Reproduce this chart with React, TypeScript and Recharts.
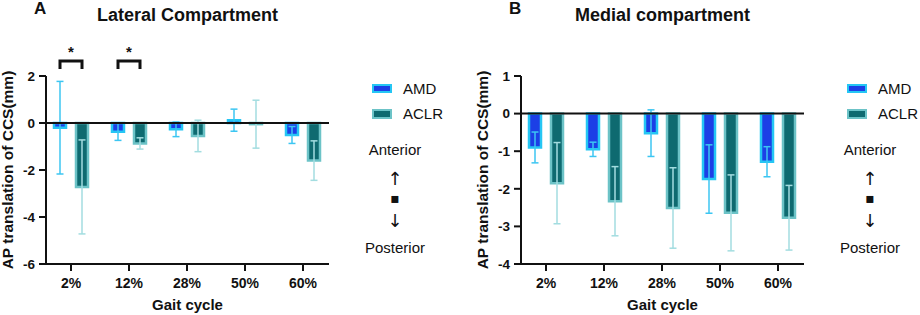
import React from 'react';
import { BarChart, Bar, XAxis, YAxis, ErrorBar, ReferenceLine, LabelList } from 'recharts';

const categories = ['2%', '12%', '28%', '50%', '60%'];

// Lateral compartment (panel A)
const latAmdMean = [-0.2, -0.37, -0.27, 0.12, -0.51];
const latAmdSd = [1.97, 0.37, 0.31, 0.47, 0.36];
const latAclrMean = [-2.72, -0.87, -0.55, -0.05, -1.6];
const latAclrSd = [2.0, 0.24, 0.67, 1.02, 0.84];
const latSig = ['*', '*', '', '', ''];
const latTicks = [2, 0, -2, -4, -6];

// Medial compartment (panel B)
const medAmdMean = [-0.9, -0.95, -0.52, -1.74, -1.28];
const medAmdSd = [0.41, 0.19, 0.62, 0.91, 0.4];
const medAclrMean = [-1.85, -2.33, -2.51, -2.64, -2.77];
const medAclrSd = [1.08, 0.92, 1.07, 1.01, 0.86];
const medSig = ['', '', '', '', ''];
const medTicks = [1, 0, -1, -2, -3, -4];

const FONT = '"Liberation Sans", Arial, sans-serif';
const SYMBOL_FONT = '"DejaVu Sans", sans-serif';
const INK = '#111';
const AMD_FILL = '#1c3fe6';
const AMD_EDGE = '#25c6f4';
const AMD_ERR = '#3cc6f2';
const ACLR_FILL = '#0e6a70';
const ACLR_EDGE = '#6cc3c7';
const ACLR_ERR = '#a3dde0';
const BAR_SIZE = 12;
const BAR_GAP = 10;

const buildRows = (amd: number[], amdSd: number[], aclr: number[], aclrSd: number[], sig: string[]) =>
  categories.map((c, i) => ({ name: c, amd: amd[i], amdSd: amdSd[i], aclr: aclr[i], aclrSd: aclrSd[i], sig: sig[i] }));

// significance bracket drawn from the AMD bar centre to the ACLR bar centre
const Bracket = (p: any) => {
  if (!p.value) return null;
  const vb = p.viewBox || p;
  const x = Number(vb.x ?? p.x);
  const w = Number(vb.width ?? p.width);
  const x1 = x + w / 2;
  const x2 = x1 + BAR_SIZE + BAR_GAP;
  return (
    <g>
      <path d={`M${x1},69 L${x1},61 L${x2},61 L${x2},69`} fill="none" stroke={INK} strokeWidth={3} />
      <text x={(x1 + x2) / 2} y={57} textAnchor="middle" fontSize={15} fontWeight={700} fill={INK}>{p.value}</text>
    </g>
  );
};

interface PanelProps {
  left: number;
  letter: string;
  title: string;
  rows: any[];
  domain: [number, number];
  ticks: number[];
}

const sideText = (top: number, size = 15, family = FONT): React.CSSProperties => ({
  position: 'absolute', left: 345, width: 100, top, fontSize: size, lineHeight: '18px', textAlign: 'center', fontFamily: family,
});

const Panel: React.FC<PanelProps> = ({ left, letter, title, rows, domain, ticks }) => (
  <div style={{ position: 'absolute', left, top: 0, width: 445, height: 315, fontFamily: FONT, color: INK }}>
    <div style={{ position: 'absolute', left: 34, top: -1, fontSize: 17, fontWeight: 700, lineHeight: '20px' }}>{letter}</div>
    <div style={{ position: 'absolute', left: 0, width: 375, top: 4, fontSize: 18, fontWeight: 700, lineHeight: '22px', textAlign: 'center' }}>{title}</div>
    <div style={{ position: 'absolute', left: 8 - 130, top: 170 - 10, width: 260, height: 20, lineHeight: '20px', fontSize: 15.5, fontWeight: 700, textAlign: 'center', transform: 'rotate(-90deg)' }}>
      AP translation of CCS(mm)
    </div>

    <BarChart width={445} height={315} data={rows} margin={{ top: 76, right: 116, left: 6, bottom: 0 }} barGap={BAR_GAP}>
      <XAxis
        dataKey="name"
        height={51}
        padding={{ left: -4, right: -3 }}
        axisLine={{ stroke: INK, strokeWidth: 2 }}
        tickLine={{ stroke: INK, strokeWidth: 2 }}
        tickSize={7}
        tickMargin={7}
        tick={{ fontSize: 14, fontWeight: 700, fill: INK }}
        label={{ value: 'Gait cycle', position: 'insideBottom', offset: 5, fontSize: 15, fontWeight: 700, fill: INK }}
      />
      <YAxis
        width={40}
        domain={domain}
        ticks={ticks}
        interval={0}
        axisLine={{ stroke: INK, strokeWidth: 2 }}
        tickLine={{ stroke: INK, strokeWidth: 2 }}
        tickSize={7}
        tickMargin={4}
        tick={{ fontSize: 13.5, fontWeight: 700, fill: INK }}
      />
      <Bar dataKey="amd" barSize={BAR_SIZE} fill={AMD_FILL} stroke={AMD_EDGE} strokeWidth={2.5} isAnimationActive={false}>
        <ErrorBar dataKey="amdSd" width={3.5} stroke={AMD_ERR} strokeWidth={1.5} direction="y" isAnimationActive={false} />
        <LabelList dataKey="sig" content={Bracket} />
      </Bar>
      <Bar dataKey="aclr" barSize={BAR_SIZE} fill={ACLR_FILL} stroke={ACLR_EDGE} strokeWidth={2.5} isAnimationActive={false}>
        <ErrorBar dataKey="aclrSd" width={3.5} stroke={ACLR_ERR} strokeWidth={1.5} direction="y" isAnimationActive={false} />
      </Bar>
      <ReferenceLine y={0} stroke={INK} strokeWidth={2} />
    </BarChart>

    {/* legend */}
    <div style={{ position: 'absolute', left: 372, top: 84, width: 20, height: 9, boxSizing: 'border-box', border: `2px solid ${AMD_EDGE}`, background: AMD_FILL }} />
    <div style={{ position: 'absolute', left: 403, top: 80, fontSize: 15, lineHeight: '18px' }}>AMD</div>
    <div style={{ position: 'absolute', left: 372, top: 109, width: 20, height: 10, boxSizing: 'border-box', border: `2px solid ${ACLR_EDGE}`, background: ACLR_FILL }} />
    <div style={{ position: 'absolute', left: 403, top: 105, fontSize: 15, lineHeight: '18px' }}>ACLR</div>

    <div style={sideText(141)}>Anterior</div>
    <div style={sideText(170, 18, SYMBOL_FONT)}>↑</div>
    <div style={sideText(189, 14, SYMBOL_FONT)}>▪</div>
    <div style={sideText(212, 18, SYMBOL_FONT)}>↓</div>
    <div style={sideText(239)}>Posterior</div>
  </div>
);

export default function App() {
  const latRows = buildRows(latAmdMean, latAmdSd, latAclrMean, latAclrSd, latSig);
  const medRows = buildRows(medAmdMean, medAmdSd, medAclrMean, medAclrSd, medSig);
  return (
    <div style={{ position: 'absolute', left: 0, top: 0, width: 920, height: 315, background: '#fff', overflow: 'hidden' }}>
      <Panel left={0} letter="A" title="Lateral Compartment" rows={latRows} domain={[-6, 2]} ticks={latTicks} />
      <Panel left={475} letter="B" title="Medial compartment" rows={medRows} domain={[-4, 1]} ticks={medTicks} />
    </div>
  );
}
